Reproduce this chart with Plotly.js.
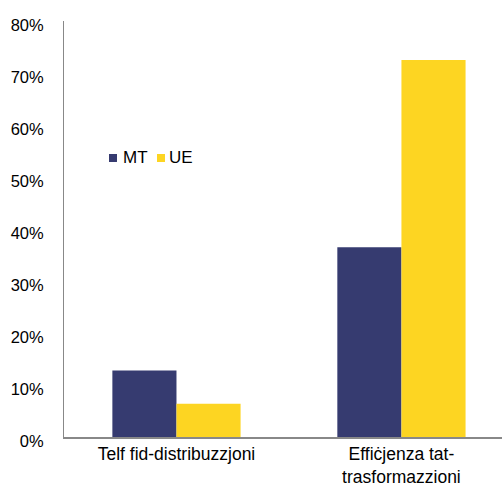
<!DOCTYPE html>
<html>
<head>
<meta charset="utf-8">
<script src="https://cdn.plot.ly/plotly-3.0.1.min.js"></script>
<style>html,body{margin:0;padding:0;background:#fff;}#chart{width:502px;height:486px;}</style>
</head>
<body>
<div id="chart"></div>
<script>
const categories = ["Telf fid-distribuzzjoni", "Effiċjenza tat-<br>trasformazzioni"];
const seriesNames = ["MT", "UE"];
const seriesColors = ["#363B70", "#FDD522"];
const mtValues = [0.128, 0.365];
const ueValues = [0.064, 0.725];
const yTickVals = [0, 0.1, 0.2, 0.3, 0.4, 0.5, 0.6, 0.7, 0.8];
const yTickText = ["0%", "10%", "20%", "30%", "40%", "50%", "60%", "70%", "80%"];

const traces = [
  {type: "bar", name: seriesNames[0], x: categories, y: mtValues, marker: {color: seriesColors[0]}},
  {type: "bar", name: seriesNames[1], x: categories, y: ueValues, marker: {color: seriesColors[1]}}
];
// compact legend (small square + label), like the original
const legendSquareX = [0.1027, 0.2123];
const legendTextX = [0.1324, 0.2374];
const legendY = 0.6707;
const legendShapes = seriesNames.map((n, i) => ({
  type: "rect", xref: "paper", yref: "paper", xsizemode: "pixel", ysizemode: "pixel",
  xanchor: legendSquareX[i], yanchor: legendY, x0: 0, x1: 8, y0: -4, y1: 4,
  fillcolor: seriesColors[i], line: {width: 0}
}));
const legendAnn = seriesNames.map((n, i) => ({
  xref: "paper", yref: "paper", x: legendTextX[i], y: legendY, xanchor: "left", yanchor: "middle",
  showarrow: false, borderpad: 0, text: n, font: {size: 17, color: "#000"}
}));
const layout = {
  width: 502, height: 486,
  margin: {l: 64, r: 0, t: 21, b: 49, pad: 0},
  paper_bgcolor: "#fff", plot_bgcolor: "#fff",
  font: {family: "Liberation Sans, Arial, sans-serif", size: 17.5, color: "#000"},
  barmode: "group", bargap: 0.43, bargroupgap: 0,
  showlegend: false,
  shapes: legendShapes,
  annotations: legendAnn,
  xaxis: {type: "category", range: [-0.5, 1.447], showgrid: false, zeroline: false, showline: true, linecolor: "#888", linewidth: 2, ticks: "", tickfont: {size: 17.5}, fixedrange: true},
  yaxis: {range: [0, 0.8], tickvals: yTickVals, ticktext: yTickText, showgrid: false, zeroline: false, showline: true, linecolor: "#888", linewidth: 1, ticks: "", ticklabelstandoff: 16, ticklabelshift: 4, tickfont: {size: 16.5}, fixedrange: true}
};
Plotly.newPlot("chart", traces, layout, {staticPlot: true});
</script>
</body>
</html>
